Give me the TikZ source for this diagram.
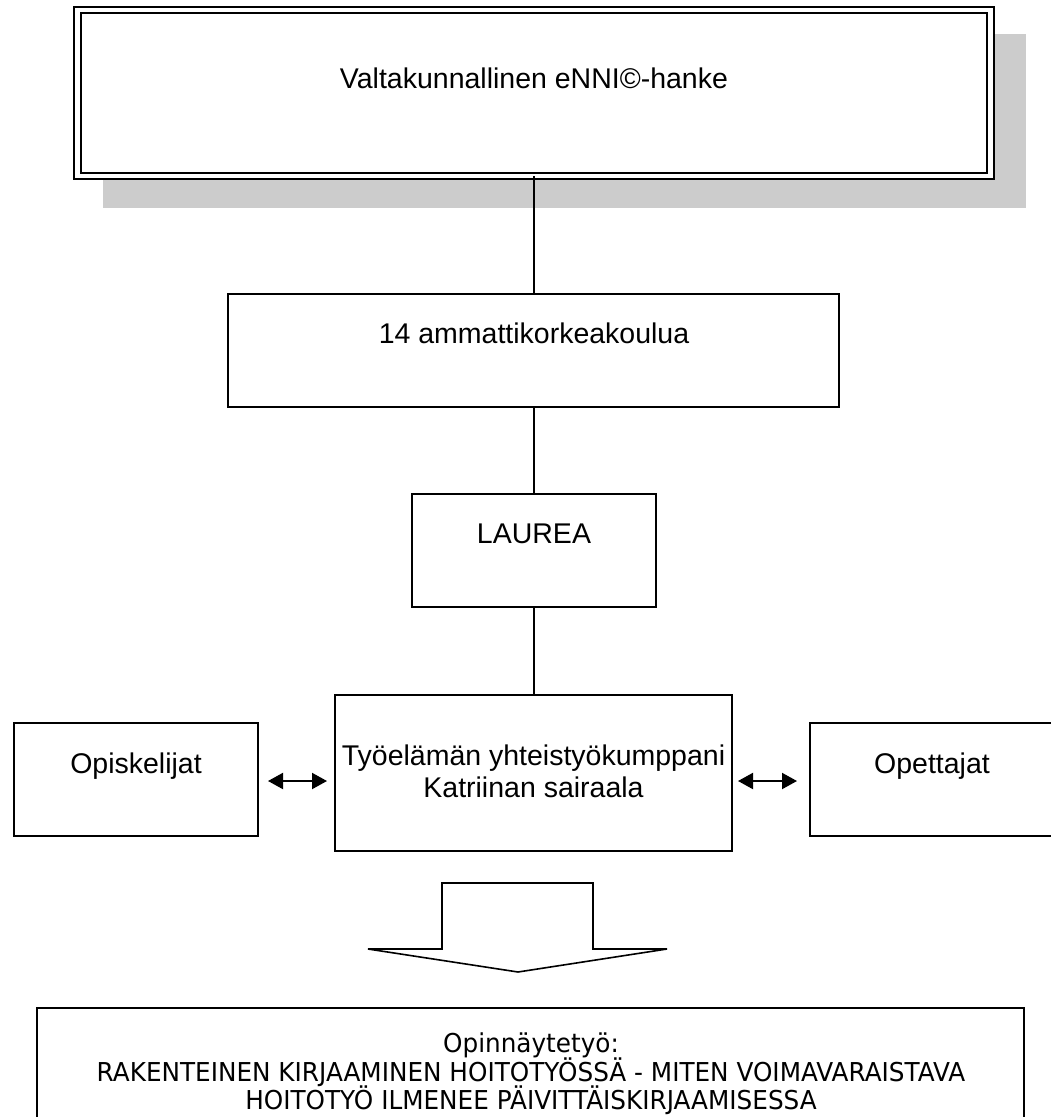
\documentclass[tikz,border=0pt]{standalone}
\usepackage{fontspec}
\setmainfont{Liberation Sans}
\newfontfamily\thesisfont[FakeStretch=0.95]{DejaVu Sans}
\usetikzlibrary{arrows.meta}
\definecolor{shadowgray}{HTML}{CCCCCC}
\begin{document}
\begin{tikzpicture}[x=1pt,y=-1pt,
  box/.style={draw, line width=2.2pt, fill=white, inner sep=0pt, outer sep=0pt},
  txt/.style={font=\fontsize{28.5}{33}\selectfont, anchor=base, inner sep=0pt},
  thesis/.style={font=\thesisfont\fontsize{26}{29}\selectfont, anchor=base, inner sep=0pt},
  link/.style={line width=2pt},
  dblarrow/.style={line width=2pt, {Triangle[length=15pt,width=16pt]}-{Triangle[length=15pt,width=16pt]}},
  blockarrow/.style={draw, line width=1.6pt, fill=white, line join=miter}]
\useasboundingbox (0,0) rectangle (1051,1117);
\clip (0,0) rectangle (1051,1117);
\fill[white] (0,0) rectangle (1051,1117);

% shadow and top box
\node[fill=shadowgray, minimum width=923pt, minimum height=174pt, inner sep=0pt, outer sep=0pt] (shadow) at (564.5,121) {};
\node[draw, double, double distance=4.2pt, line width=2.2pt, fill=white, inner sep=0pt, outer sep=0pt,
      minimum width=913pt, minimum height=166pt] (top) at (534,93) {};
\node[txt] (toptxt) at (534,88) {Valtakunnallinen eNNI©-hanke};

% second box
\node[box, minimum width=611pt, minimum height=113pt] (amk) at (533.5,350.5) {};
\node[txt] (amktxt) at (534,343) {14 ammattikorkeakoulua};

% LAUREA
\node[box, minimum width=244pt, minimum height=113pt] (laurea) at (534,550.5) {};
\node[txt] (laureatxt) at (534,543) {LAUREA};

% Tyoelaman
\node[box, minimum width=397pt, minimum height=156pt] (tyo) at (533.5,773) {};
\node[txt] (tyo1) at (533.5,765) {Työelämän yhteistyökumppani};
\node[txt] (tyo2) at (533.5,797) {Katriinan sairaala};

% side boxes
\node[box, minimum width=244pt, minimum height=113pt] (opis) at (136,779.5) {};
\node[txt] (opistxt) at (136,773) {Opiskelijat};
\node[box, minimum width=245pt, minimum height=113pt] (opet) at (932.5,779.5) {};
\node[txt] (opettxt) at (932,773) {Opettajat};

% connectors
\draw[link] (top.south -| amk.north) -- (amk.north);
\draw[link] (amk.south) -- (amk.south |- laurea.north);
\draw[link] (laurea.south) -- (laurea.south |- tyo.north);

\coordinate (a1) at ([yshift=-1.5pt]opis.east);
\coordinate (a2) at (a1 -| tyo.west);
\draw[dblarrow] ([xshift=10pt]a1) -- ([xshift=-8pt]a2);
\coordinate (b1) at ([yshift=-1.5pt]opet.west);
\coordinate (b2) at (b1 -| tyo.east);
\draw[dblarrow] ([xshift=6pt]b2) -- ([xshift=-13pt]b1);

% block arrow
\draw[blockarrow] (442,883) -- (593,883) -- (593,949) -- (667,949) -- (518,972) -- (368,949) -- (442,949) -- cycle;

% thesis box
\node[box, line width=2pt, minimum width=987pt, minimum height=112pt] (thesis) at (530.5,1064) {};
\node[thesis] (th1) at (531,1052) {Opinnäytetyö:};
\node[thesis] (th2) at (531,1081) {RAKENTEINEN KIRJAAMINEN HOITOTYÖSSÄ - MITEN VOIMAVARAISTAVA};
\node[thesis] (th3) at (531,1109) {HOITOTYÖ ILMENEE PÄIVITTÄISKIRJAAMISESSA};
\end{tikzpicture}
\end{document}
